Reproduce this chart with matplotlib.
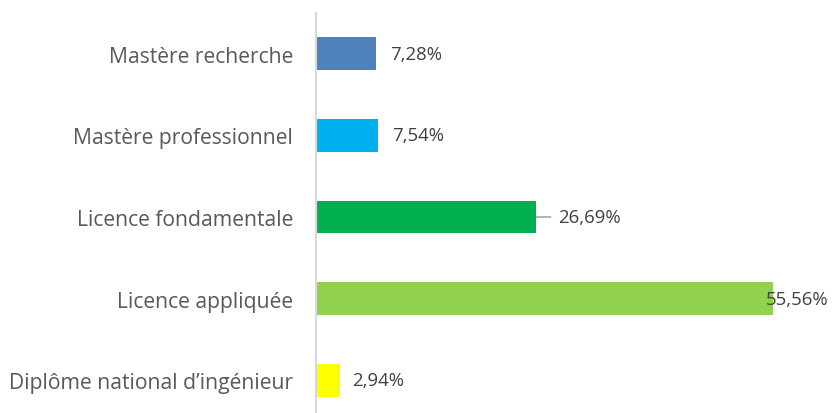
import matplotlib
matplotlib.use("Agg")
import matplotlib.pyplot as plt

categories = ["Mastère recherche", "Mastère professionnel", "Licence fondamentale",
              "Licence appliquée", "Diplôme national d\u2019ingénieur"]
values = [7.28, 7.54, 26.69, 55.56, 2.94]
labels = ["7,28%", "7,54%", "26,69%", "55,56%", "2,94%"]
colors = ["#4F81BD", "#00B0F0", "#00B050", "#92D050", "#FFFF00"]

W, H = 834, 414
dpi = 100
plt.rcParams['font.family'] = ['Open Sans', 'DejaVu Sans']
fig = plt.figure(figsize=(W / dpi, H / dpi), dpi=dpi)

# fit font sizes to the reference text widths
renderer = fig.canvas.get_renderer()
def fit(s, target_px, base=12):
    t = fig.text(0, 0, s, fontsize=base)
    w = t.get_window_extent(renderer).width
    t.remove()
    return base * target_px / w

cat_fs = fit(categories[4], 283)
val_fs = fit("26,69%", 63)

px_per_unit = 8.225
x0 = 316
xmax = 60
ax_w = xmax * px_per_unit
top = 14
step = 81.6
ax_h = 5 * step
ax = fig.add_axes([x0 / W, 1 - (top + ax_h) / H, ax_w / W, ax_h / H])

pt = 72 / dpi
ypos = list(range(len(categories)))
ax.barh(ypos, values, height=0.4, color=colors)
ax.set_ylim(len(categories) - 0.5, -0.5)
ax.set_xlim(0, xmax)
ax.set_yticks(ypos)
ax.set_yticklabels(categories, fontsize=cat_fs, color="#595959")
ax.tick_params(axis='y', length=0, pad=23 * pt)
ax.set_xticks([])
for s in ["top", "right", "bottom"]:
    ax.spines[s].set_visible(False)
ax.spines["left"].set_color("#D9D9D9")
ax.spines["left"].set_linewidth(1.5)

offsets = [14, 14, 23, -7, 12]
for i, (v, lab) in enumerate(zip(values, labels)):
    ax.annotate(lab, xy=(v, i), xytext=(offsets[i] * pt, 0), textcoords="offset points",
                ha="left", va="center", fontsize=val_fs, color="#404040")
    if i == 2:
        ax.annotate("", xy=(v + 1 / px_per_unit, i), xytext=(v + 15 / px_per_unit, i),
                    arrowprops=dict(arrowstyle="-", color="#A6A6A6", lw=1.2,
                                    shrinkA=0, shrinkB=0))

fig.savefig("out.png", dpi=dpi)
